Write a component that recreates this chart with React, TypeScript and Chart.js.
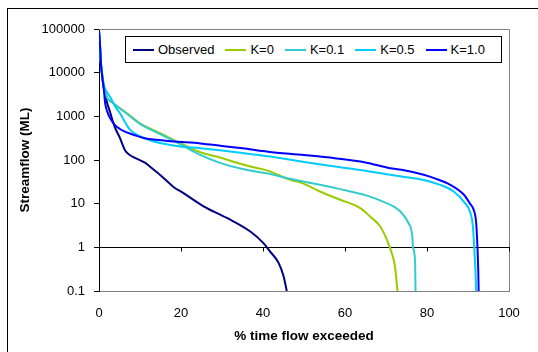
import React, { useEffect, useRef } from "react";
import { Chart, registerables } from "chart.js";

Chart.register(...registerables);

const seriesNames = ["Observed", "K=0", "K=0.1", "K=0.5", "K=1.0"];
const seriesColors = ["#000080", "#99CC00", "#33CCCC", "#00CCFF", "#0000FF"];

const observedX = [0, 0.2, 0.4, 0.7, 1.0, 1.5, 2.0, 2.7, 3.3, 3.9, 5.1, 6.3, 7.5, 8.8, 11.2, 12.4, 15, 18.1, 20.6, 25.5, 31.2, 36.9, 40.1, 41.7, 43.8, 45.0, 45.8];
const observedY = [90000, 50000, 20000, 10000, 5500, 3200, 2000, 1260, 800, 550, 320, 170, 130, 112, 87, 71, 45, 24.5, 17.4, 8.7, 4.7, 2.3, 1.25, 0.81, 0.44, 0.22, 0.1];

const k0X = [0, 0.2, 0.5, 0.8, 1.2, 1.9, 3.5, 6.8, 10, 12.4, 14.9, 19.8, 24.7, 28.7, 33, 36.9, 41.7, 46.6, 49.4, 53.9, 58.8, 63.7, 66.1, 68.6, 70.2, 71.4, 72.2, 72.8];
const k0Y = [90000, 50000, 15000, 9000, 5000, 2800, 2000, 1180, 690, 530, 410, 245, 150, 120, 90, 71, 55, 35, 30, 19, 12.3, 7.9, 5.1, 3.0, 1.5, 0.74, 0.36, 0.1];

const k01X = [0, 0.2, 0.5, 0.8, 1.2, 1.9, 3.5, 6.8, 10, 14.9, 19.8, 24.7, 29.5, 35, 41.7, 44.2, 48, 53.9, 61.3, 66.1, 69.4, 71.8, 73.5, 75.4, 76.4, 76.6, 77.1, 77.2];
const k01Y = [90000, 50000, 15000, 9000, 5000, 2800, 2000, 1150, 670, 390, 230, 131, 86, 62, 48, 42, 35, 27, 19, 14.5, 11, 8.7, 6.6, 3.7, 1.85, 1.0, 0.45, 0.1];

const k05X = [0, 0.2, 0.5, 0.8, 1.2, 2.0, 2.7, 3.9, 5.1, 6.3, 7.6, 10, 14.9, 19.8, 24.7, 30, 35, 41.7, 50, 57.5, 65, 71, 73.8, 79.2, 83.2, 86.5, 89, 90.6, 91.2, 91.5, 91.8, 92.0];
const k05Y = [90000, 50000, 15000, 8000, 5000, 3500, 2800, 1700, 1180, 750, 490, 350, 245, 205, 186, 165, 145, 120, 90, 71, 57, 46, 42, 35, 27, 19, 11, 6.1, 3.0, 1.05, 0.31, 0.1];

const k10X = [0, 0.2, 0.5, 0.8, 1.2, 1.5, 2.0, 2.7, 3.9, 5, 6.3, 8.4, 11.2, 14, 18.5, 24.7, 30, 35, 41.2, 50, 57.5, 65, 71, 73.8, 79.2, 81.9, 85.7, 89, 90.5, 91.4, 92, 92.3, 92.5, 92.6];
const k10Y = [90000, 50000, 15000, 8000, 4000, 2000, 1300, 910, 630, 520, 445, 380, 315, 290, 265, 240, 210, 185, 155, 130, 110, 88, 65, 60, 46, 38, 27, 16, 10, 7.2, 3.6, 1.05, 0.3, 0.1];

const seriesX = [observedX, k0X, k01X, k05X, k10X];
const seriesY = [observedY, k0Y, k01Y, k05Y, k10Y];

const yTicks = [0.1, 1, 10, 100, 1000, 10000, 100000];
const xTicks = [0, 20, 40, 60, 80, 100];

const FONT = "'Liberation Sans', Arial, sans-serif";

const overlayPlugin = {
  id: "overlay",
  beforeDatasetsDraw(chart: any) {
    const { ctx, chartArea } = chart;
    const xs = chart.scales.x;
    const ys = chart.scales.y;
    ctx.save();
    ctx.strokeStyle = "#808080";
    ctx.lineWidth = 1;
    ctx.beginPath();
    ctx.moveTo(chartArea.left, Math.round(chartArea.top) + 0.5);
    ctx.lineTo(chartArea.right + 0.5, Math.round(chartArea.top) + 0.5);
    ctx.lineTo(Math.round(chartArea.right) + 0.5, chartArea.bottom);
    ctx.stroke();
    const y1 = Math.round(ys.getPixelForValue(1)) + 0.5;
    ctx.strokeStyle = "#000000";
    ctx.beginPath();
    ctx.moveTo(chartArea.left, y1);
    ctx.lineTo(chartArea.right + 1, y1);
    for (const t of xTicks) {
      const px = Math.round(xs.getPixelForValue(t)) + 0.5;
      ctx.moveTo(px, y1);
      ctx.lineTo(px, y1 + 4);
    }
    ctx.stroke();
    ctx.restore();
  },
  afterDraw(chart: any) {
    const { ctx, chartArea } = chart;
    ctx.save();
    ctx.fillStyle = "#000000";
    ctx.font = "bold 13.5px " + FONT;
    ctx.textAlign = "center";
    ctx.textBaseline = "middle";
    ctx.fillText("% time flow exceeded", (chartArea.left + chartArea.right) / 2, 336);
    ctx.translate(25, (chartArea.top + chartArea.bottom) / 2);
    ctx.rotate(-Math.PI / 2);
    ctx.fillText("Streamflow (ML)", 0, 0);
    ctx.restore();
  },
};

export default function App() {
  const canvasRef = useRef<HTMLCanvasElement>(null);

  useEffect(() => {
    if (!canvasRef.current) return;
    const datasets = seriesNames.map((name, i) => ({
      label: name,
      data: seriesX[i].map((x, j) => ({ x, y: seriesY[i][j] })),
      borderColor: seriesColors[i],
      backgroundColor: seriesColors[i],
      borderWidth: 2,
      pointRadius: 0,
      fill: false,
      showLine: true,
      cubicInterpolationMode: "monotone" as const,
      order: seriesNames.length - i,
    }));
    const chart = new Chart(canvasRef.current, {
      type: "scatter",
      data: { datasets },
      options: {
        animation: false,
        responsive: false,
        devicePixelRatio: 1,
        layout: { padding: { top: 29, right: 29, left: 0, bottom: 0 } },
        plugins: {
          legend: { display: false },
          tooltip: { enabled: false },
        },
        scales: {
          x: {
            type: "linear",
            min: 0,
            max: 100,
            afterBuildTicks: (scale: any) => {
              scale.ticks = xTicks.map((v) => ({ value: v }));
            },
            afterFit: (scale: any) => {
              scale.height = 61;
            },
            grid: { display: false, drawTicks: false },
            border: { display: true, color: "#808080", width: 1 },
            ticks: {
              color: "#000000",
              font: { family: FONT, size: 13 },
              padding: 15,
              maxRotation: 0,
            },
          },
          y: {
            type: "logarithmic",
            min: 0.1,
            max: 100000,
            afterBuildTicks: (scale: any) => {
              scale.ticks = yTicks.map((v) => ({ value: v }));
            },
            afterFit: (scale: any) => {
              scale.width = 99;
            },
            grid: {
              display: true,
              drawOnChartArea: false,
              drawTicks: true,
              tickLength: 5,
              color: "#000000",
            },
            border: { display: true, color: "#000000", width: 1 },
            ticks: {
              color: "#000000",
              font: { family: FONT, size: 13 },
              padding: 9,
              callback: (v: any) => String(v),
            },
          },
        },
      },
      plugins: [overlayPlugin],
    });
    return () => chart.destroy();
  }, []);

  return (
    <div
      style={{
        position: "absolute",
        left: 0,
        top: 0,
        width: 538,
        height: 352,
        overflow: "hidden",
        background: "#ffffff",
        fontFamily: FONT,
      }}
    >
      <div
        style={{
          position: "absolute",
          left: 7,
          top: 8,
          width: 700,
          height: 500,
          borderLeft: "1px solid #000",
          borderTop: "1px solid #000",
        }}
      />
      <canvas
        ref={canvasRef}
        width={538}
        height={352}
        style={{ position: "absolute", left: 0, top: 0, width: 538, height: 352 }}
      />
      <div
        style={{
          position: "absolute",
          left: 125,
          top: 36,
          width: 368,
          height: 25,
          border: "1px solid #000",
          background: "#fff",
          display: "flex",
          alignItems: "center",
          paddingLeft: 7,
          boxSizing: "content-box",
          fontSize: 13,
          color: "#000",
          whiteSpace: "nowrap",
          overflow: "hidden",
        }}
      >
        {seriesNames.map((name, i) => (
          <div key={name} style={{ display: "flex", alignItems: "center", marginRight: 11 }}>
            <div style={{ width: 21, height: 2, background: seriesColors[i], marginRight: 4 }} />
            <span>{name}</span>
          </div>
        ))}
      </div>
    </div>
  );
}
